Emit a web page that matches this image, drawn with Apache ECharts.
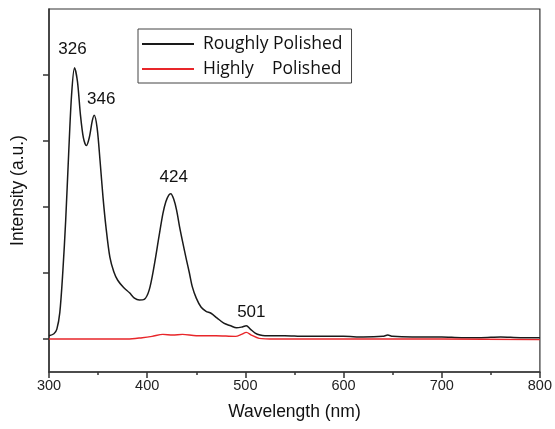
<!DOCTYPE html>
<html>
<head>
<meta charset="utf-8">
<script src="https://cdn.jsdelivr.net/npm/echarts@6/dist/echarts.min.js"></script>
<style>
  html, body { margin: 0; padding: 0; background: #fff; }
  #chart { width: 555px; height: 429px; }
</style>
</head>
<body>
<div id="chart"></div>
<script>
// 波长 / 强度
var roughWl = [300, 305, 308, 311, 314, 317, 320, 323, 326, 329, 332, 335, 338, 341, 344, 346, 349, 352, 355, 358, 362, 366, 370, 376, 382, 387, 392, 397, 402, 407, 412, 416, 419, 422, 424, 427, 430, 433, 436, 440, 443, 446, 450, 455, 460, 465, 471, 478, 485, 491, 496, 501, 505, 510, 515, 520, 540, 560, 580, 600, 620, 640, 645, 650, 670, 700, 720, 740, 760, 780, 800];
var roughVal = [0.05, 0.08, 0.15, 0.4, 1.0, 1.8, 2.8, 3.7, 4.11, 3.9, 3.4, 3.05, 2.93, 3.05, 3.3, 3.39, 3.2, 2.7, 2.15, 1.7, 1.24, 1.02, 0.89, 0.78, 0.7, 0.62, 0.59, 0.6, 0.74, 1.1, 1.55, 1.9, 2.08, 2.18, 2.2, 2.12, 1.95, 1.7, 1.48, 1.2, 1.0, 0.79, 0.62, 0.48, 0.42, 0.39, 0.32, 0.24, 0.2, 0.17, 0.18, 0.2, 0.15, 0.09, 0.06, 0.05, 0.05, 0.04, 0.04, 0.04, 0.03, 0.04, 0.06, 0.04, 0.03, 0.03, 0.02, 0.02, 0.03, 0.02, 0.02];

var smoothWl = [300, 340, 380, 395, 405, 416, 426, 436, 450, 470, 490, 496, 501, 506, 514, 530, 600, 700, 800];
var smoothVal = [0, 0, 0, 0.02, 0.04, 0.07, 0.06, 0.07, 0.05, 0.05, 0.04, 0.07, 0.1, 0.06, 0.01, 0, 0, 0, -0.01];

// 峰值标注
var peakWl = [326, 346, 424, 501];
var peakVal = [4.11, 3.39, 2.2, 0.2];
var peakOffset = [[-2, -18], [7, -16], [3, -16], [5, -13]];

var yTicks = [0, 1, 2, 3, 4];

function pairs(xs, ys) {
    var out = [];
    for (var i = 0; i < xs.length; i++) {
        out.push([xs[i], ys[i]]);
    }
    return out;
}

var peakMarks = [];
for (var i = 0; i < peakWl.length; i++) {
    peakMarks.push({
        coord: [peakWl[i], peakVal[i]],
        value: String(peakWl[i]),
        label: { offset: peakOffset[i] }
    });
}

var axisColor = '#333';
var oChart = echarts.init(document.getElementById('chart'));
var chartopt = {
    animation: false,
    backgroundColor: '#fff',
    grid: {
        left: 49,
        right: 12,
        top: 9,
        bottom: 57,
        show: true,
        borderColor: axisColor,
        borderWidth: 1.2
    },
    legend: {
        left: 138,
        top: 29,
        orient: 'vertical',
        padding: [6, 9, 5, 4],
        borderColor: '#444',
        borderWidth: 1,
        itemWidth: 52,
        itemHeight: 2,
        itemGap: 7,
        icon: 'rect',
        textStyle: {
            fontFamily: 'Open Sans',
            fontSize: 17.5,
            color: '#111',
            padding: [0, 0, 0, 4]
        },
        data: ['Roughly Polished', 'Highly    Polished']
    },
    xAxis: {
        type: 'value',
        min: 300,
        max: 800,
        interval: 100,
        name: 'Wavelength (nm)',
        nameLocation: 'middle',
        nameGap: 31,
        nameTextStyle: { fontFamily: 'Liberation Sans', fontSize: 17.5, color: '#111' },
        axisLine: { show: true, onZero: false, lineStyle: { color: axisColor, width: 1.5 } },
        axisTick: { show: true, inside: false, length: 6, lineStyle: { color: axisColor, width: 1.5 } },
        minorTick: { show: true, splitNumber: 2, length: 3, lineStyle: { color: axisColor, width: 1.5 } },
        axisLabel: { fontFamily: 'Liberation Sans', fontSize: 14.5, color: '#222', margin: 6 },
        splitLine: { show: false }
    },
    yAxis: {
        type: 'value',
        min: -0.5,
        max: 5,
        name: 'Intensity (a.u.)',
        nameLocation: 'middle',
        nameGap: 22,
        nameTextStyle: { fontFamily: 'Liberation Sans', fontSize: 17.5, color: '#111' },
        axisLine: { show: true, onZero: false, lineStyle: { color: axisColor, width: 1.5 } },
        axisTick: { show: true, inside: false, length: 6, customValues: yTicks, lineStyle: { color: axisColor, width: 1.5 } },
        axisLabel: { show: false },
        splitLine: { show: false }
    },
    series: [{
        name: 'Roughly Polished',
        type: 'line',
        showSymbol: false,
        smooth: 0.3,
        color: '#1a1a1a',
        lineStyle: { color: '#1a1a1a', width: 1.5 },
        data: pairs(roughWl, roughVal),
        markPoint: {
            symbol: 'circle',
            symbolSize: 0,
            label: {
                show: true,
                position: 'inside',
                fontFamily: 'Liberation Sans',
                fontSize: 17,
                color: '#111'
            },
            data: peakMarks
        }
    }, {
        name: 'Highly    Polished',
        type: 'line',
        showSymbol: false,
        smooth: 0.3,
        color: '#e8262a',
        lineStyle: { color: '#e8262a', width: 1.4 },
        data: pairs(smoothWl, smoothVal)
    }]
};
oChart.setOption(chartopt);
</script>
</body>
</html>
